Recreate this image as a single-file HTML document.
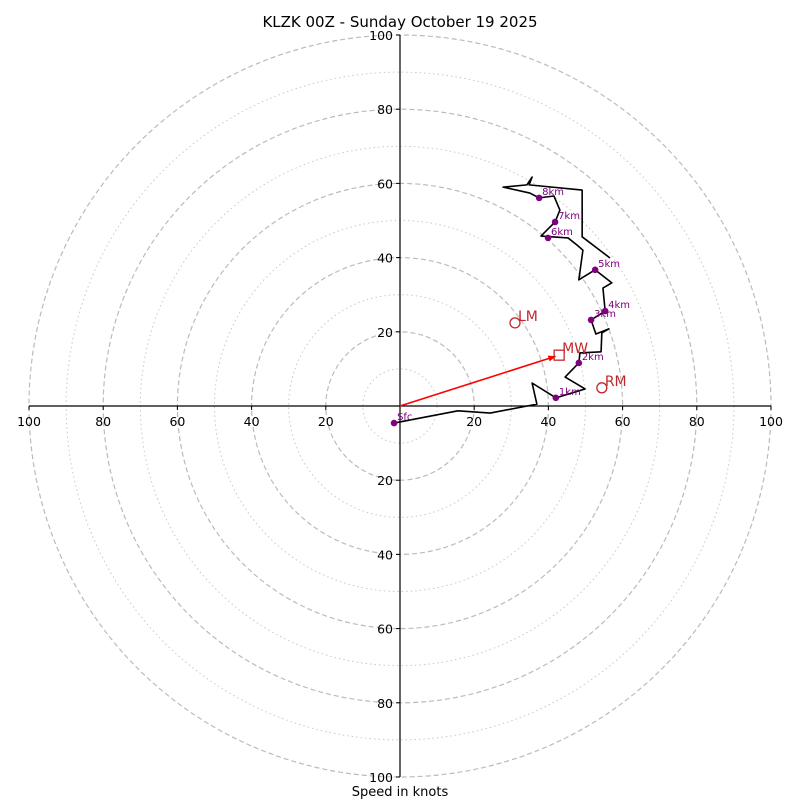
<!DOCTYPE html>
<html><head><meta charset="utf-8"><style>
html,body{margin:0;padding:0;background:#fff;}
svg{display:block;font-family:"DejaVu Sans","Liberation Sans",sans-serif;}
</style></head><body>
<svg id="c" width="800" height="800" viewBox="0 0 800 800">
<text x="400" y="27" text-anchor="middle" font-size="15">KLZK 00Z - Sunday October 19 2025</text>
<text x="400" y="796" text-anchor="middle" font-size="13">Speed in knots</text>
<g id="rings"></g><g id="axes"></g><g id="trace"></g>
</svg>
<script>
const ringDashed=[20,40,60,80,100];
const ringDotted=[10,30,50,70,90];
const tickVals=[20,40,60,80,100];
const traceU=[-1.6,15.6,24.3,36.9,35.6,42.0,49.9,44.5,48.2,48.5,54.2,54.4,56.3,52.8,51.5,55.3,54.7,57.1,52.6,48.2,49.3,47.7,45.3,38.0,41.8,43.1,41.5,37.5,35.0,27.8,34.2,35.6,34.8,49.1,49.1,56.6];
const traceV=[-4.6,-1.3,-1.9,0.5,6.2,2.2,4.6,7.8,11.6,14.3,14.6,19.7,20.8,19.4,23.2,25.6,31.8,33.2,36.7,34.0,42.0,43.4,45.3,45.8,49.6,52.8,56.6,56.1,57.4,59.0,59.6,61.7,59.6,58.2,45.6,39.9];
const hgtLabels=["Sfc","1km","2km","3km","4km","5km","6km","7km","8km"];
const hgtU=[-1.6,42.0,48.2,51.5,55.3,52.6,39.9,41.8,37.5];
const hgtV=[-4.6,2.2,11.6,23.2,25.6,36.7,45.3,49.6,56.1];
const motionNames=["LM","MW","RM"];
const motionU=[31.0,42.9,54.4];
const motionV=[22.4,13.7,4.9];
const NS='http://www.w3.org/2000/svg';
const cx=400,cy=406,k=3.71;
const X=u=>cx+u*k, Y=v=>cy-v*k;
function mk(tag,attrs,parent){const e=document.createElementNS(NS,tag);for(const a in attrs)e.setAttribute(a,attrs[a]);parent.appendChild(e);return e;}
const rings=document.getElementById('rings'),axes=document.getElementById('axes'),tr=document.getElementById('trace');
ringDotted.forEach(r=>{const e=mk('circle',{cx:cx,cy:cy,r:r*k,fill:'none',stroke:'#c8c8c8','stroke-width':1,'stroke-dasharray':'1.5 3'},rings);

});
ringDashed.forEach(r=>{const e=mk('circle',{cx:cx,cy:cy,r:r*k,fill:'none',stroke:'#bbbbbb','stroke-width':1.2,'stroke-dasharray':'5 3'},rings);

});
let l=mk('line',{x1:X(-100),y1:cy,x2:X(100),y2:cy,stroke:'#000','stroke-width':1.2},axes);


l=mk('line',{x1:cx,y1:Y(100),x2:cx,y2:Y(-100),stroke:'#000','stroke-width':1.2},axes);


tickVals.forEach(t=>{[-1,1].forEach(s=>{
 mk('line',{x1:X(s*t),y1:cy,x2:X(s*t),y2:cy+4,stroke:'#000'},axes);
 let tx=mk('text',{x:X(s*t),y:cy+20,'text-anchor':'middle','font-size':12.5},axes);tx.textContent=t;
 
 
 mk('line',{x1:cx-4,y1:Y(s*t),x2:cx,y2:Y(s*t),stroke:'#000'},axes);
 let ty=mk('text',{x:cx-7,y:Y(s*t)+5,'text-anchor':'end','font-size':12.5},axes);ty.textContent=t;
 
 
});});
const pts=traceU.map((u,i)=>X(u)+','+Y(traceV[i])).join(' ');
let pl=mk('polyline',{points:pts,fill:'none',stroke:'#000','stroke-width':1.6,'stroke-linejoin':'round'},tr);


hgtLabels.forEach((n,i)=>{
 let c=mk('circle',{cx:X(hgtU[i]),cy:Y(hgtV[i]),r:3.3,fill:'#800080'},tr);
 
 
 let t=mk('text',{x:X(hgtU[i])+3,y:Y(hgtV[i])-3,'font-size':10,fill:'#800080'},tr);t.textContent=n;
 
 
});
const mx=X(motionU[1]),my=Y(motionV[1]);
const ang=Math.atan2(my-cy,mx-cx),al=8;
let ar=mk('line',{x1:cx,y1:cy,x2:mx-4*Math.cos(ang),y2:my-4*Math.sin(ang),stroke:'#ff0000','stroke-width':1.6},tr);


const hx=mx-3*Math.cos(ang),hy=my-3*Math.sin(ang);
let ah=mk('polygon',{points:`${hx},${hy} ${hx-al*Math.cos(ang)+3*Math.sin(ang)},${hy-al*Math.sin(ang)-3*Math.cos(ang)} ${hx-al*Math.cos(ang)-3*Math.sin(ang)},${hy-al*Math.sin(ang)+3*Math.cos(ang)}`,fill:'#ff0000'},tr);


motionNames.forEach((n,i)=>{
 const x=X(motionU[i]),y=Y(motionV[i]);
 let m;
 if(n==='MW') m=mk('rect',{x:x-5,y:y-5,width:10,height:10,fill:'none',stroke:'#c0282d','stroke-width':1.3},tr);
 else m=mk('circle',{cx:x,cy:y,r:5,fill:'none',stroke:'#c0282d','stroke-width':1.3},tr);
 
 
 let t=mk('text',{x:x+3,y:y-2,'font-size':14,fill:'#c0282d'},tr);t.textContent=n;
 
 
});
</script>
</body></html>
